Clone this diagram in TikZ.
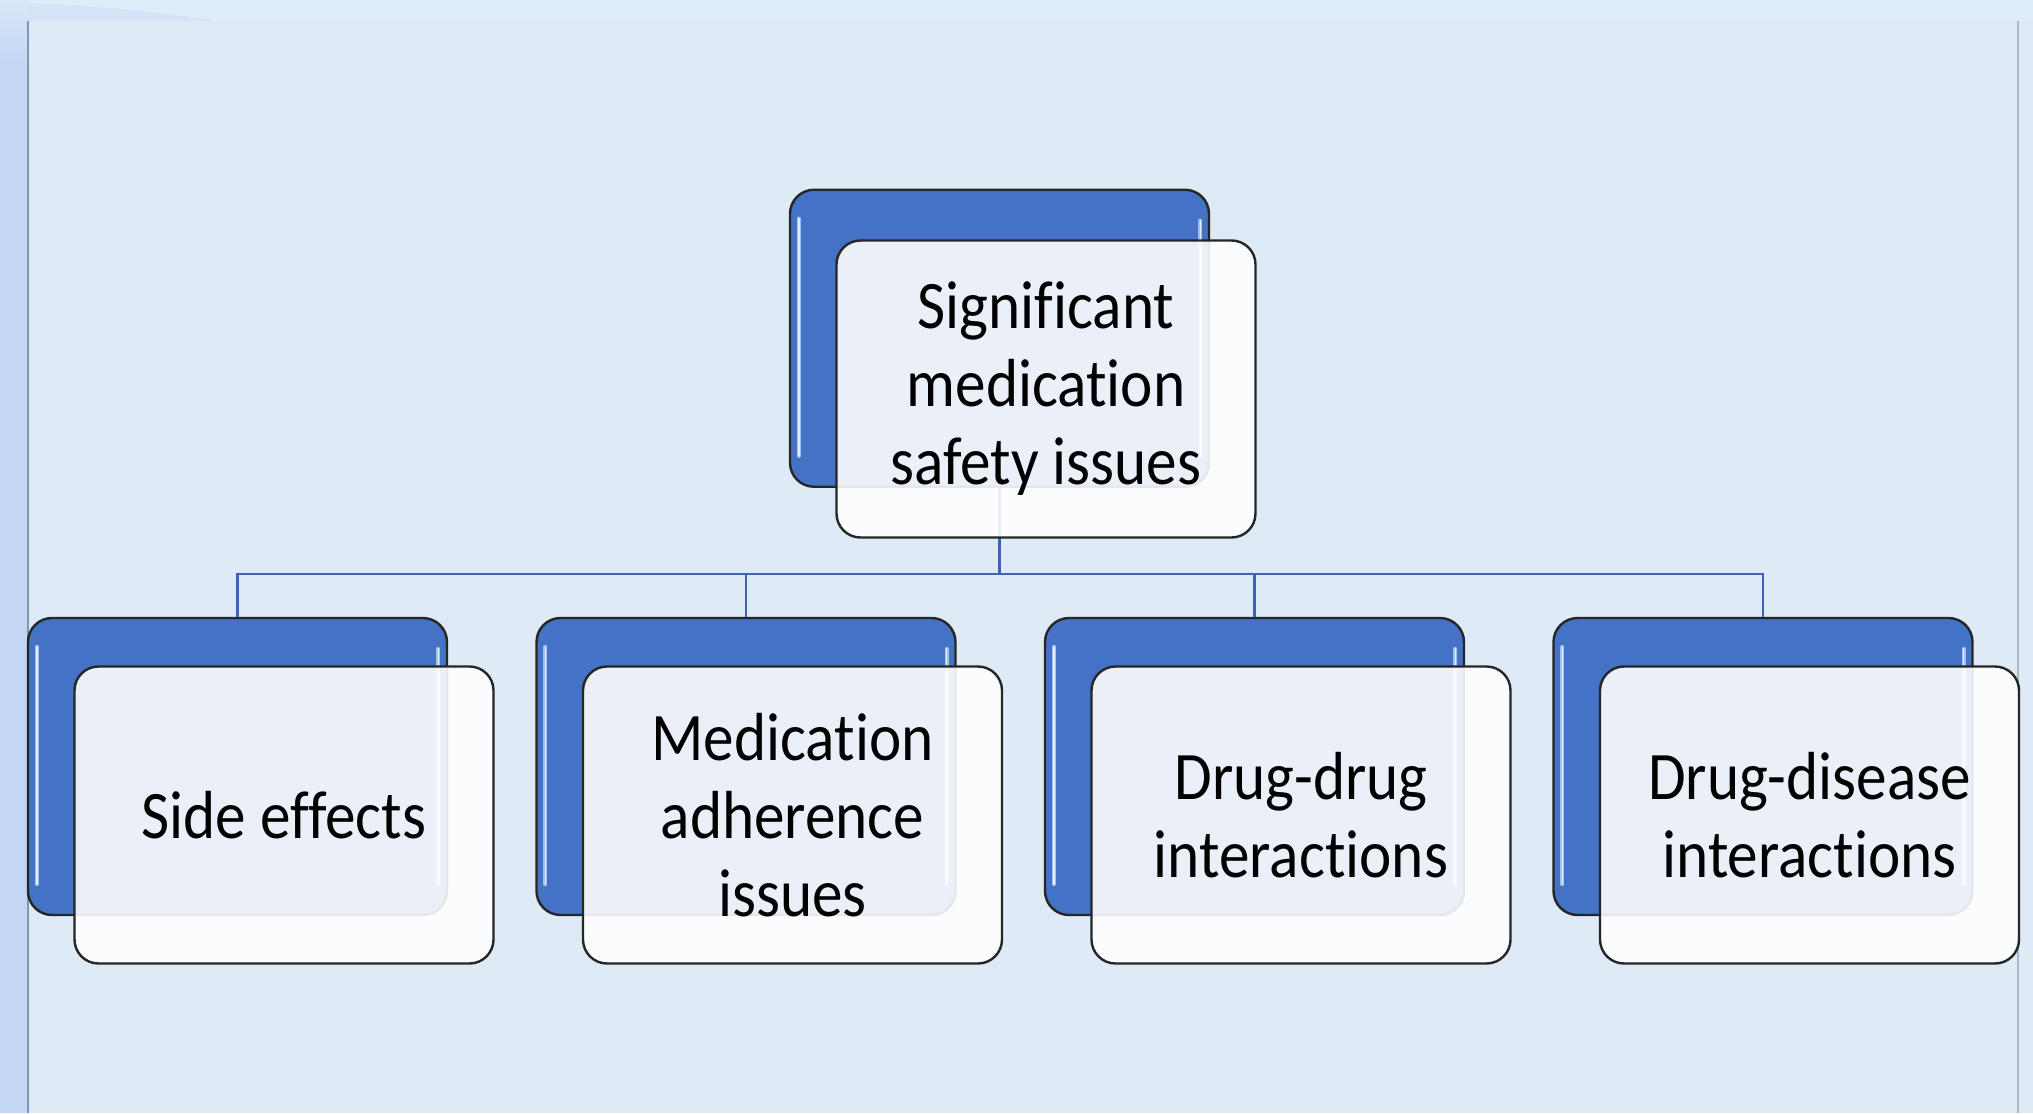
\documentclass[tikz,border=0pt]{standalone}
\usepackage{fontspec}
\setmainfont{Carlito}[FakeStretch=0.9,Ligatures=NoCommon]
\definecolor{bgblue}{RGB}{222,234,246}
\definecolor{bandblue}{RGB}{195,215,245}
\definecolor{bandtop}{RGB}{218,231,247}
\definecolor{topstrip}{RGB}{223,236,249}
\definecolor{curveblue}{RGB}{212,227,246}
\definecolor{boxblue}{RGB}{68,114,196}
\definecolor{connblue}{RGB}{61,100,176}
\definecolor{glossblue}{RGB}{160,192,242}
\definecolor{edgeline}{RGB}{128,150,184}
\definecolor{edgeright}{RGB}{169,181,198}
\begin{document}
\begin{tikzpicture}[x=0.5pt,y=-0.5pt,
  backbox/.style={draw=black!85, line width=1.2pt, fill=boxblue, rounded corners=12pt,
    minimum width=209.5pt, minimum height=148.5pt, inner sep=0pt},
  frontbox/.style={draw=black!85, line width=1.2pt, fill=white, fill opacity=0.89, text opacity=1,
    rounded corners=12pt, minimum width=209.5pt, minimum height=148.5pt, inner sep=0pt,
    align=center, font=\fontsize{34}{39}\selectfont},
  conn/.style={draw=connblue, line width=1.3pt},
  glossa/.style={draw=glossblue, line width=2pt, line cap=round},
  glossb/.style={draw=white, draw opacity=0.7, line width=0.7pt, line cap=round}]
\useasboundingbox (0,0) rectangle (2033,1113);
% background
\fill[bgblue] (0,0) rectangle (2033,1113);
\fill[topstrip] (0,0) rectangle (2033,21);
\fill[curveblue] (0,2) .. controls (80,4) and (160,12) .. (217,21) -- (0,21) -- cycle;
\shade[top color=bandtop, bottom color=bandblue] (0,0) rectangle (28,65);
\fill[bandblue] (0,65) rectangle (28,1113);
\draw[edgeline, line width=0.6pt] (28,21) -- (28,1113);
\draw[edgeright, line width=0.8pt] (2018,21) -- (2018,1113);
% back boxes
\node[backbox] (tb) at (999.5,338.25) {};
\node[backbox] (b1) at (237.5,766.5) {};
\node[backbox] (b2) at (746,766.5) {};
\node[backbox] (b3) at (1254.5,766.5) {};
\node[backbox] (b4) at (1763,766.5) {};
% gloss highlights on back boxes
\foreach \n in {tb,b1,b2,b3,b4}{
  \draw[glossa] ([shift={(10,30)}]\n.north west) -- ([shift={(10,-32)}]\n.south west);
  \draw[glossb] ([shift={(10,30)}]\n.north west) -- ([shift={(10,-32)}]\n.south west);
  \draw[glossa] ([shift={(-10,32)}]\n.north east) -- ([shift={(-10,-32)}]\n.south east);
  \draw[glossb] ([shift={(-10,32)}]\n.north east) -- ([shift={(-10,-32)}]\n.south east);
}
% connectors
\coordinate (bus) at (0,574);
\draw[conn] (tb.south) -- (tb.south |- bus) -| (b1.north);
\draw[conn] (tb.south) -- (tb.south |- bus) -| (b2.north);
\draw[conn] (tb.south) -- (tb.south |- bus) -| (b3.north);
\draw[conn] (tb.south) -- (tb.south |- bus) -| (b4.north);
% front boxes
\node[frontbox] (tf) at (1046,389) {Significant\\medication\\safety issues};
\node[frontbox] (f1) at (284,815) {Side effects};
\node[frontbox] (f2) at (792.5,815) {Medication\\adherence\\issues};
\node[frontbox] (f3) at (1301,815) {Drug-drug\\interactions};
\node[frontbox] (f4) at (1809.5,815) {Drug-disease\\interactions};
\end{tikzpicture}
\end{document}
